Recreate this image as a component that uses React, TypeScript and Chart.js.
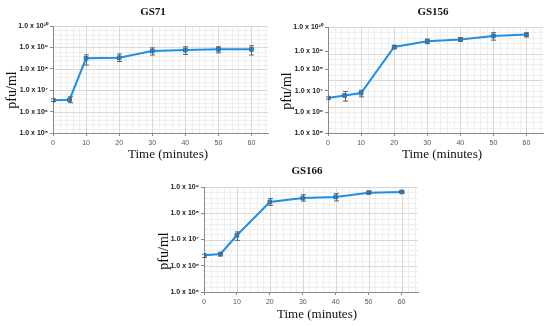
import React, { useEffect, useRef } from "react";
import { Chart, registerables } from "chart.js";

Chart.register(...registerables);

// ---------- data ----------
const TIMES = [0, 5, 10, 20, 30, 40, 50, 60];
const X_TICKS = [0, 10, 20, 30, 40, 50, 60];
const X_LABEL = "Time (minutes)";
const Y_LABEL = "pfu/ml";

const GS71_PFU = [3.4e6, 3.6e6, 3.1e8, 3.3e8, 6.8e8, 7.5e8, 8.1e8, 8.1e8];
const GS71_LOW = [2.95e6, 2.6e6, 1.5e8, 2.2e8, 4.4e8, 4.7e8, 5.6e8, 4.4e8];
const GS71_HIGH = [3.9e6, 4.9e6, 4.5e8, 4.9e8, 9.5e8, 1.07e9, 1.07e9, 1.2e9];
const GS71_TICK_EXP = [10, 9, 8, 7, 6, 5];
const GS71_TICK_LABELS = ["1.0 x 10¹⁰", "1.0 x 10⁹", "1.0 x 10⁸", "1.0 x 10⁷", "1.0 x 10⁶", "1.0 x 10⁵"];

const GS156_PFU = [2.1e7, 2.6e7, 3.2e7, 1.76e9, 2.9e9, 3.4e9, 4.6e9, 5.2e9];
const GS156_LOW = [1.9e7, 1.6e7, 2.3e7, 1.5e9, 2.35e9, 2.9e9, 3.2e9, 4.2e9];
const GS156_HIGH = [2.3e7, 3.7e7, 4.1e7, 2.0e9, 3.5e9, 4.0e9, 6.1e9, 5.8e9];
const GS156_TICK_EXP = [10, 9.09, 8.4, 7.6, 6.79, 6];
const GS156_TICK_LABELS = ["1.0 x 10¹⁰", "1.0 x 10⁹", "1.0 x 10⁸", "1.0 x 10⁷", "1.0 x 10⁶", "1.0 x 10⁵"];

const GS166_PFU = [2.5e6, 2.8e6, 1.45e7, 2.7e8, 3.8e8, 4.2e8, 6.1e8, 6.5e8];
const GS166_LOW = [2.05e6, 2.35e6, 9.3e6, 2.0e8, 2.9e8, 2.95e8, 5.6e8, 5.9e8];
const GS166_HIGH = [2.75e6, 2.95e6, 1.95e7, 3.6e8, 5.1e8, 5.6e8, 6.9e8, 7.0e8];
const GS166_TICK_EXP = [9, 8, 7, 6, 5];
const GS166_TICK_LABELS = ["1.0 x 10⁹", "1.0 x 10⁸", "1.0 x 10⁷", "1.0 x 10⁶", "1.0 x 10⁵"];

// ---------- styling / layout ----------
const W = 550;
const H = 326;
const BLUE = "#1f8fe5";
const Y_AXIS_W = 40;
const X_AXIS_H = 20;

type Panel = {
  title: string;
  values: number[];
  low: number[];
  high: number[];
  tickExp: number[];
  tickLabels: string[];
  minExp: number;
  maxExp: number;
  area: { l: number; t: number; r: number; b: number };
  titlePos: [number, number];
  xTitlePos: [number, number];
  yTitlePos: [number, number];
};

const PANELS: Panel[] = [
  {
    title: "GS71",
    values: GS71_PFU,
    low: GS71_LOW,
    high: GS71_HIGH,
    tickExp: GS71_TICK_EXP,
    tickLabels: GS71_TICK_LABELS,
    minExp: 5,
    maxExp: 10,
    area: { l: 53, t: 26, r: 268, b: 133 },
    titlePos: [153, 12],
    xTitlePos: [168, 155],
    yTitlePos: [12, 90],
  },
  {
    title: "GS156",
    values: GS156_PFU,
    low: GS156_LOW,
    high: GS156_HIGH,
    tickExp: GS156_TICK_EXP,
    tickLabels: GS156_TICK_LABELS,
    minExp: 6,
    maxExp: 10,
    area: { l: 328, t: 27, r: 543, b: 133 },
    titlePos: [433, 12],
    xTitlePos: [442, 155],
    yTitlePos: [287, 91],
  },
  {
    title: "GS166",
    values: GS166_PFU,
    low: GS166_LOW,
    high: GS166_HIGH,
    tickExp: GS166_TICK_EXP,
    tickLabels: GS166_TICK_LABELS,
    minExp: 5,
    maxExp: 9,
    area: { l: 204, t: 187, r: 418, b: 292 },
    titlePos: [307, 171],
    xTitlePos: [317, 315],
    yTitlePos: [164, 251],
  },
];

function makeConfig(p: Panel): any {
  const gridPlugin = {
    id: "bgGrid",
    beforeDraw(chart: any) {
      const { ctx, chartArea: ca } = chart;
      const xs = chart.scales.x;
      const ys = chart.scales.y;
      ctx.save();
      ctx.lineWidth = 1;
      // minor
      ctx.strokeStyle = "#eeeeee";
      for (let t = 2; t <= 65; t += 2) {
        if (t % 10 === 0) continue;
        const x = Math.round(xs.getPixelForValue(t)) + 0.5;
        ctx.beginPath();
        ctx.moveTo(x, ca.top);
        ctx.lineTo(x, ca.bottom);
        ctx.stroke();
      }
      for (let e = p.minExp; e < p.maxExp; e++) {
        for (let k = 1; k < 5; k++) {
          const y = Math.round(ys.getPixelForValue(Math.pow(10, e + k / 5))) + 0.5;
          ctx.beginPath();
          ctx.moveTo(ca.left, y);
          ctx.lineTo(ca.right, y);
          ctx.stroke();
        }
      }
      // major
      ctx.strokeStyle = "#d8d8d8";
      for (const t of X_TICKS) {
        if (t === 0) continue;
        const x = Math.round(xs.getPixelForValue(t)) + 0.5;
        ctx.beginPath();
        ctx.moveTo(x, ca.top);
        ctx.lineTo(x, ca.bottom);
        ctx.stroke();
      }
      for (let e = p.minExp + 1; e <= p.maxExp; e++) {
        const y = Math.round(ys.getPixelForValue(Math.pow(10, e))) + 0.5;
        ctx.beginPath();
        ctx.moveTo(ca.left, y);
        ctx.lineTo(ca.right, y);
        ctx.stroke();
      }
      ctx.restore();
    },
  };

  const errorPlugin = {
    id: "errBars",
    afterDatasetsDraw(chart: any) {
      const { ctx } = chart;
      const xs = chart.scales.x;
      const ys = chart.scales.y;
      ctx.save();
      ctx.strokeStyle = "#606060";
      ctx.lineWidth = 1;
      TIMES.forEach((t, i) => {
        const x = Math.round(xs.getPixelForValue(t)) + 0.5;
        const y1 = ys.getPixelForValue(p.low[i]);
        const y2 = ys.getPixelForValue(p.high[i]);
        ctx.beginPath();
        ctx.moveTo(x, y1);
        ctx.lineTo(x, y2);
        ctx.moveTo(x - 2.5, y1);
        ctx.lineTo(x + 2.5, y1);
        ctx.moveTo(x - 2.5, y2);
        ctx.lineTo(x + 2.5, y2);
        ctx.stroke();
      });
      ctx.restore();
    },
  };

  const textPlugin = {
    id: "texts",
    afterDraw(chart: any) {
      const { ctx } = chart;
      ctx.save();
      ctx.fillStyle = "#111";
      ctx.textAlign = "center";
      ctx.textBaseline = "middle";
      ctx.font = 'bold 11px "Liberation Serif", serif';
      ctx.fillText(p.title, p.titlePos[0], p.titlePos[1]);
      ctx.font = '13px "Liberation Serif", serif';
      ctx.fillText(X_LABEL, p.xTitlePos[0], p.xTitlePos[1]);
      ctx.translate(p.yTitlePos[0], p.yTitlePos[1]);
      ctx.rotate(-Math.PI / 2);
      ctx.font = '14px "Liberation Serif", serif';
      ctx.fillText(Y_LABEL, 0, 0);
      ctx.restore();
    },
  };

  return {
    type: "line",
    data: {
      datasets: [
        {
          data: TIMES.map((t, i) => ({ x: t, y: p.values[i] })),
          borderColor: BLUE,
          backgroundColor: BLUE,
          borderWidth: 2,
          pointStyle: "rect",
          pointRadius: 2.6,
          pointBorderColor: "#1a78c8",
          pointBackgroundColor: BLUE,
          pointBorderWidth: 1,
          tension: 0,
        },
      ],
    },
    options: {
      responsive: false,
      animation: false,
      devicePixelRatio: 1,
      layout: {
        padding: {
          left: p.area.l - Y_AXIS_W,
          top: p.area.t,
          right: W - p.area.r,
          bottom: H - p.area.b - X_AXIS_H,
        },
      },
      plugins: {
        legend: { display: false },
        tooltip: { enabled: false },
        title: { display: false },
      },
      scales: {
        x: {
          type: "linear",
          min: 0,
          max: 65,
          afterBuildTicks: (s: any) => {
            s.ticks = X_TICKS.map((v) => ({ value: v }));
          },
          afterFit: (s: any) => {
            s.height = X_AXIS_H;
          },
          grid: {
            display: true,
            drawOnChartArea: false,
            drawTicks: true,
            tickLength: 3,
            tickColor: "#8a8a8a",
          },
          border: { display: true, color: "#8a8a8a", width: 1 },
          ticks: {
            autoSkip: false,
            maxRotation: 0,
            padding: 3,
            color: "#555",
            font: { family: '"Liberation Sans", Arial, sans-serif', size: 7 },
          },
        },
        y: {
          type: "logarithmic",
          min: Math.pow(10, p.minExp),
          max: Math.pow(10, p.maxExp),
          afterBuildTicks: (s: any) => {
            s.ticks = p.tickExp.map((e) => ({ value: Math.pow(10, e) }));
          },
          afterFit: (s: any) => {
            s.width = Y_AXIS_W;
          },
          grid: {
            display: true,
            drawOnChartArea: false,
            drawTicks: true,
            tickLength: 3,
            tickColor: "#8a8a8a",
          },
          border: { display: true, color: "#8a8a8a", width: 1 },
          ticks: {
            autoSkip: false,
            padding: 2,
            color: "#222",
            font: { family: '"Liberation Sans", Arial, sans-serif', size: 7, weight: "bold" },
            callback: (_v: any, i: number) => p.tickLabels[i],
          },
        },
      },
    },
    plugins: [gridPlugin, errorPlugin, textPlugin],
  };
}

function PanelChart({ panel }: { panel: Panel }) {
  const ref = useRef<HTMLCanvasElement | null>(null);
  useEffect(() => {
    if (!ref.current) return;
    const chart = new Chart(ref.current, makeConfig(panel));
    return () => chart.destroy();
  }, [panel]);
  return (
    <canvas
      ref={ref}
      width={W}
      height={H}
      style={{ position: "absolute", left: 0, top: 0, width: W, height: H }}
    />
  );
}

export default function App() {
  return (
    <div
      style={{
        position: "fixed",
        left: 0,
        top: 0,
        width: W,
        height: H,
        overflow: "hidden",
        background: "#fff",
      }}
    >
      {PANELS.map((p) => (
        <PanelChart key={p.title} panel={p} />
      ))}
    </div>
  );
}
